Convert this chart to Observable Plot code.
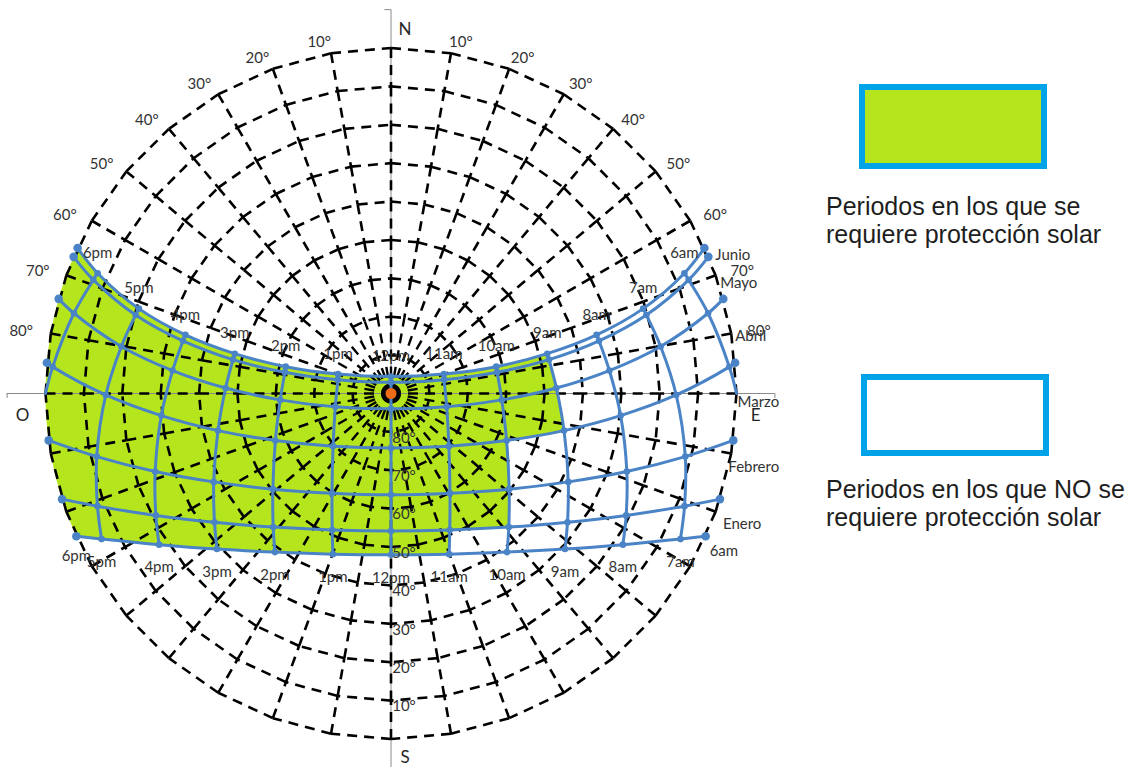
<!DOCTYPE html>
<html><head><meta charset="utf-8">
<script src="https://cdn.jsdelivr.net/npm/d3@7"></script>
<script src="https://cdn.jsdelivr.net/npm/@observablehq/plot@0.6"></script>
<style>
html,body{margin:0;padding:0;background:#fff;}
#wrap{position:relative;width:1130px;height:767px;overflow:hidden;background:#fff;}
#chart{position:absolute;left:0;top:0;}
.box{position:absolute;box-sizing:border-box;border:6.5px solid #00A2E8;}
.lab{position:absolute;font-family:"Liberation Sans",Arial,sans-serif;font-size:25px;line-height:28px;color:#1e1e1e;white-space:nowrap;}
</style></head><body>
<div id="wrap">
<div id="chart"></div>
<div class="box" style="left:859px;top:84px;width:188px;height:85px;background:#B5E61D"></div>
<div class="lab" style="left:826px;top:192px">Periodos en los que se<br>requiere protección solar</div>
<div class="box" style="left:861px;top:374px;width:188px;height:82px;background:#fff"></div>
<div class="lab" style="left:826px;top:475px">Periodos en los que NO se<br>requiere protección solar</div>
</div>
<script>
// ---------- data (azimuth from N clockwise, altitude, degrees) ----------
const hourLabels = ["6am","7am","8am","9am","10am","11am","12pm","1pm","2pm","3pm","4pm","5pm","6pm"];
const curveNames = ["21 junio","1 junio","1 mayo","1 abril","1 marzo","1 febrero","1 enero"];

const azJun21  = [67.7, 71.4, 74.1, 75.7, 75.7, 69.8, 0, 290.2, 284.3, 284.3, 285.9, 288.6, 292.3];
const altJun21 = [7.4, 20.7, 34.3, 48.0, 61.7, 75.3, 85.6, 75.3, 61.7, 48.0, 34.3, 20.7, 7.4];
const azJun1   = [69.1, 72.9, 75.8, 77.9, 78.7, 75.4, 0, 284.6, 281.3, 282.1, 284.2, 287.1, 290.9];
const altJun1  = [7.0, 20.4, 34.1, 47.9, 61.8, 75.7, 87.1, 75.7, 61.8, 47.9, 34.1, 20.4, 7.0];
const azMay1   = [75.8, 80.1, 84.0, 88.1, 93.3, 103.3, 180, 256.7, 266.7, 271.9, 276.0, 279.9, 284.2];
const altMay1  = [4.8, 18.7, 32.8, 46.9, 61.1, 75.1, 86.0, 75.1, 61.1, 46.9, 32.8, 18.7, 4.8];
const azApr1   = [85.5, 90.3, 95.5, 102.1, 112.1, 132.3, 180, 227.7, 247.9, 257.9, 264.5, 269.7, 274.5];
const altApr1  = [1.6, 15.7, 29.9, 43.9, 57.5, 69.6, 75.8, 69.6, 57.5, 43.9, 29.9, 15.7, 1.6];
const azMar1   = [null, 102.1, 108.3, 116.5, 129.0, 149.4, 180, 210.6, 231.0, 243.5, 251.7, 257.9, null];
const altMar1  = [null, 11.6, 25.3, 38.4, 50.4, 59.8, 63.6, 59.8, 50.4, 38.4, 25.3, 11.6, null];
const azFeb1   = [null, 111.0, 117.4, 126.1, 138.6, 156.7, 180, 203.3, 221.4, 233.9, 242.6, 249.0, null];
const altFeb1  = [null, 8.1, 21.0, 33.1, 43.6, 51.3, 54.2, 51.3, 43.6, 33.1, 21.0, 8.1, null];
const azJan1   = [null, 116.7, 123.1, 131.8, 143.8, 160.1, 180, 199.9, 216.2, 228.2, 236.9, 243.3, null];
const altJan1  = [null, 5.6, 17.9, 29.2, 38.8, 45.5, 48.0, 45.5, 38.8, 29.2, 17.9, 5.6, null];

const sunriseAz = [65.1, 66.7, 74.1, 84.9, 97.8, 107.8, 114.4];
const sunsetAz  = [294.9, 293.3, 285.9, 275.1, 262.2, 252.2, 245.6];
const hourLineHorizonAz = {"6am": 90, "6pm": 270};

// first hour of each curve that needs solar protection (until sunset)
const protectionStart = ["9am","9am","9am","9am","10am","10am","11am"];

const monthLabels = ["Junio","Mayo","Abril","Marzo","Febrero","Enero"];
const ringAltitudes = [0, 10, 20, 30, 40, 50, 60, 70, 80];
const altLabels = [80, 70, 60, 50, 40, 30, 20, 10];
const azLabels = [10, 20, 30, 40, 50, 60, 70, 80];
const cardinals = ["N", "E", "S", "O"];

// ---------- build ----------
const azTable = [azJun21, azJun1, azMay1, azApr1, azMar1, azFeb1, azJan1];
const altTable = [altJun21, altJun1, altMay1, altApr1, altMar1, altFeb1, altJan1];
const P = (az, alt) => { const r = 90 - alt, t = az * Math.PI / 180; return {x: r * Math.sin(t), y: r * Math.cos(t)}; };
const hi = h => hourLabels.indexOf(h);
const pt = (m, i) => P(azTable[m][i], altTable[m][i]);

const monthPts = [];
curveNames.forEach((name, m) => {
  monthPts.push({...P(sunriseAz[m], 0), curve: name, end: true});
  hourLabels.forEach((h, i) => {
    if (altTable[m][i] != null) monthPts.push({...pt(m, i), curve: name, hour: h, end: false});
  });
  monthPts.push({...P(sunsetAz[m], 0), curve: name, end: true});
});

const hourPts = [];
hourLabels.forEach((h, i) => {
  curveNames.forEach((name, m) => { if (altTable[m][i] != null) hourPts.push({...pt(m, i), hour: h}); });
  if (hourLineHorizonAz[h] != null) hourPts.push({...P(hourLineHorizonAz[h], 0), hour: h});
});

// protection area outline
const poly = [P(sunsetAz[0], 0)];
for (let i = 12; i >= hi(protectionStart[0]); i--) if (altTable[0][i] != null) poly.push(pt(0, i));
for (let m = 1; m < curveNames.length; m++) {
  const s = hi(protectionStart[m]);
  if (s !== hi(protectionStart[m - 1])) poly.push(pt(m - 1, s));
  poly.push(pt(m, s));
}
const last = curveNames.length - 1;
for (let i = hi(protectionStart[last]) + 1; i <= 12; i++) if (altTable[last][i] != null) poly.push(pt(last, i));
for (let a = sunsetAz[last]; a < sunsetAz[0]; a += 1.5) poly.push(P(a, 0));
poly.push(P(sunsetAz[0], 0));

// grid: outer rings drawn side by side (dash restarts at each vertex), inner rings continuous;
// spokes drawn inward ring to ring, the innermost part from the centre outward
const gridAz = d3.range(0, 360, 10);
const outerRings = ringAltitudes.filter(a => a <= 60), innerRings = ringAltitudes.filter(a => a > 60);
const ringSegs = [];
for (const a of outerRings) for (const z of gridAz) {
  const p1 = P(z, a), p2 = P(z + 10, a);
  ringSegs.push({x1: p1.x, y1: p1.y, x2: p2.x, y2: p2.y});
}
const innerRingPts = [];
for (const a of innerRings) for (const z of [...gridAz, 360]) innerRingPts.push({...P(z, a), ring: a});
const spokeSegs = [];
for (const z of gridAz) for (const a of outerRings) {
  const p1 = P(z, a), p2 = P(z, a + 10);
  spokeSegs.push({x1: p1.x, y1: p1.y, x2: p2.x, y2: p2.y});
}
const innerSpokes = gridAz.map(z => { const p = P(z, innerRings[0]); return {x2: p.x, y2: p.y}; });

// labels
const topHourLabels = hourLabels.map((h, i) => ({...pt(0, i), t: h}));
const bottomHourLabels = hourLabels.map((h, i) => altTable[last][i] != null ? {...pt(last, i), t: h} : null).filter(d => d);
const monthAnchor = {
  Junio: P(sunriseAz[1], 0), Mayo: P(sunriseAz[2], 0), Abril: P(sunriseAz[3], 0),
  Marzo: P(hourLineHorizonAz["6am"], 0), Febrero: P(sunriseAz[4], 0), Enero: P(sunriseAz[5], 0)
};
const monthNudge = {Junio: [7, -2], Mayo: [-3, -16], Abril: [0, -27], Marzo: [1, 9], Febrero: [-5, 27], Enero: [3, 25]};

const BLUE = "#4A84C6", GREEN = "#B5E61D", TXT = "#333333", GRAY = "#8a8a8a";
const FONT = "Lato, 'Open Sans', sans-serif";
const FS = 15;
const rad = a => a * Math.PI / 180;
const DASH = {stroke: "#000", strokeWidth: 2.6, strokeDasharray: "10 7"};

const monthTextMarks = monthLabels.map(name => Plot.text([monthAnchor[name]], {
  x: "x", y: "y", text: () => name, textAnchor: "start",
  dx: monthNudge[name][0], dy: monthNudge[name][1], fontSize: FS, fill: TXT, fontFamily: FONT
}));

const chart = Plot.plot({
  width: 1130, height: 767,
  x: {domain: [-90, 90], range: [45, 736], axis: null},
  y: {domain: [-90, 90], range: [738.5, 47.5], axis: null},
  style: {background: "transparent", fontFamily: FONT},
  marks: [
    Plot.line(poly, {x: "x", y: "y", fill: GREEN, stroke: "none", curve: "linear"}),
    Plot.ruleX([0], {y1: -100, y2: 100, stroke: GRAY, strokeWidth: 1}),
    Plot.ruleY([0], {x1: -100, x2: 100, stroke: GRAY, strokeWidth: 1}),
    Plot.ruleY([100], {x1: -1.6, x2: 0, stroke: GRAY}),
    Plot.ruleX([-100, 100], {y1: -1.3, y2: 0, stroke: GRAY}),
    Plot.link(ringSegs, {x1: "x1", y1: "y1", x2: "x2", y2: "y2", ...DASH}),
    Plot.line(innerRingPts, {x: "x", y: "y", z: "ring", ...DASH, strokeLinecap: "butt", strokeLinejoin: "miter", curve: "linear"}),
    Plot.link(spokeSegs, {x1: "x1", y1: "y1", x2: "x2", y2: "y2", ...DASH}),
    Plot.link(innerSpokes, {x1: 0, y1: 0, x2: "x2", y2: "y2", ...DASH, strokeWidth: 2.4}),
    Plot.line(hourPts, {x: "x", y: "y", z: "hour", stroke: BLUE, strokeWidth: 3, curve: "catmull-rom"}),
    Plot.line(monthPts, {x: "x", y: "y", z: "curve", stroke: BLUE, strokeWidth: 3, curve: "catmull-rom"}),
    Plot.dot(monthPts.filter(d => !d.end), {x: "x", y: "y", r: 3.3, fill: BLUE}),
    Plot.dot(monthPts.filter(d => d.end), {x: "x", y: "y", r: 4.3, fill: BLUE}),
    Plot.dot([{x: 0, y: 0}], {x: "x", y: "y", r: 5.5, fill: "#EE6C18"}),
    // hour labels
    Plot.text(topHourLabels, {x: "x", y: "y", text: "t", dy: -20, fontSize: FS, fill: TXT, fontFamily: FONT}),
    Plot.text(bottomHourLabels, {x: "x", y: "y", text: "t", dy: 23, fontSize: FS, fill: TXT, fontFamily: FONT}),
    Plot.text([P(sunsetAz[last], 0)], {x: "x", y: "y", text: () => "6pm", dy: 20, fontSize: FS, fill: TXT, fontFamily: FONT}),
    Plot.text([P(sunriseAz[last], 0)], {x: "x", y: "y", text: () => "6am", textAnchor: "start", dx: 4, dy: 15, fontSize: FS, fill: TXT, fontFamily: FONT}),
    ...monthTextMarks,
    // altitude labels
    Plot.text(altLabels, {x: 0, y: a => -(90 - a), text: a => a + "°", dx: 13, dy: 6, fontSize: FS, fill: TXT, fontFamily: FONT}),
    // azimuth labels
    Plot.text(azLabels, {x: a => -95.7 * Math.sin(rad(a)), y: a => 92.9 * Math.cos(rad(a)), text: a => a + "°", dx: -8, fontSize: FS, fill: TXT, fontFamily: FONT}),
    Plot.text(azLabels, {x: a => 95.7 * Math.sin(rad(a)), y: a => 92.9 * Math.cos(rad(a)), text: a => a + "°", dx: 6, fontSize: FS, fill: TXT, fontFamily: FONT}),
    // cardinal points
    Plot.text(cardinals.filter(c => c === "N" || c === "S"), {x: 0, y: c => c === "N" ? 94.8 : -94.8, text: d => d, dx: 14, fontSize: 17, fill: "#262626", fontFamily: FONT}),
    Plot.text(cardinals.filter(c => c === "E" || c === "O"), {x: c => c === "E" ? 95 : -96, y: 0, text: d => d, dy: 22, fontSize: 17, fill: "#262626", fontFamily: FONT})
  ]
});
document.getElementById("chart").appendChild(chart);
</script>
</body></html>
